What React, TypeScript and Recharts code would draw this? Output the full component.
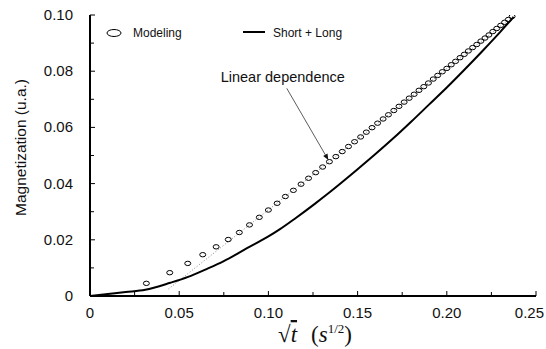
import React from 'react';
import {
  ComposedChart,
  Line,
  Scatter,
  XAxis,
  YAxis,
  Legend,
  ReferenceLine,
} from 'recharts';

// modeling points (sqrt t, magnetization)
const modelingX = [
  0.0316, 0.0447, 0.0548, 0.0632, 0.0707, 0.0775, 0.0837, 0.0894, 0.0949, 0.1,
  0.1049, 0.1095, 0.114, 0.1183, 0.1225, 0.1265, 0.1304, 0.1342, 0.1378, 0.1414,
  0.1449, 0.1483, 0.1517, 0.1549, 0.1581, 0.1612, 0.1643, 0.1673, 0.1703, 0.1732,
  0.1761, 0.1789, 0.1817, 0.1844, 0.1871, 0.1897, 0.1924, 0.1949, 0.1975, 0.2,
  0.2025, 0.2049, 0.2074, 0.2098, 0.2121, 0.2145, 0.2168, 0.2191, 0.2214, 0.2236,
  0.2258, 0.228, 0.2302, 0.2324, 0.2345, 0.2366,
];
const modelingY = [
  0.0045, 0.0083, 0.0116, 0.0147, 0.0175, 0.0201, 0.0226, 0.0253, 0.028, 0.0306,
  0.033, 0.0354, 0.0376, 0.0398, 0.0419, 0.0439, 0.0459, 0.0478, 0.0496, 0.0514,
  0.0532, 0.0549, 0.0566, 0.0583, 0.0599, 0.0615, 0.063, 0.0645, 0.066, 0.0675,
  0.069, 0.0704, 0.0718, 0.0732, 0.0745, 0.0758, 0.0772, 0.0785, 0.0798, 0.081,
  0.0823, 0.0835, 0.0848, 0.086, 0.0872, 0.0884, 0.0895, 0.0907, 0.0918, 0.0929,
  0.0941, 0.0952, 0.0963, 0.0974, 0.0984, 0.0995,
];

// short + long model curve
const shortLongX = [
  0, 0.01, 0.02, 0.031, 0.045, 0.055, 0.065, 0.075, 0.088, 0.1, 0.1065, 0.115,
  0.126, 0.1345, 0.15, 0.16, 0.17, 0.18, 0.19, 0.2, 0.21, 0.22, 0.23, 0.2375,
];
const shortLongY = [
  0, 0.0007, 0.0014, 0.0022, 0.0047, 0.0068, 0.0095, 0.0124, 0.017, 0.0212,
  0.0238, 0.0276, 0.0328, 0.037, 0.0451, 0.0505, 0.0561, 0.062, 0.0681, 0.0742,
  0.0806, 0.0872, 0.094, 0.0993,
];

// dotted linear dependence
const linearX = [0.044, 0.237];
const linearY = [0.0025, 0.0995];

const xTicks = [0, 0.025, 0.05, 0.075, 0.1, 0.125, 0.15, 0.175, 0.2, 0.225, 0.25];
const xTickLabels = ['0', '0.05', '0.10', '0.15', '0.20', '0.25'];
const yTicks = [0, 0.01, 0.02, 0.03, 0.04, 0.05, 0.06, 0.07, 0.08, 0.09, 0.1];
const yTickLabels = ['0', '0.02', '0.04', '0.06', '0.08', '0.10'];

const modelingData = modelingX.map((x, i) => ({ x, y: modelingY[i] }));
const shortLongData = shortLongX.map((x, i) => ({ x, y: shortLongY[i] }));
const linearData = linearX.map((x, i) => ({ x, y: linearY[i] }));

const sans = '"Liberation Sans", Arial, sans-serif';

const XTick = (props: any) => {
  const { x, y, index } = props;
  const major = index % 2 === 0;
  const last = index === xTicks.length - 1;
  return (
    <g>
      <line x1={x} y1={y} x2={x} y2={y - (major ? 5 : 4)} stroke="#000" />
      {major && (
        <text
          x={last ? x + 8 : x}
          y={y + 22}
          textAnchor={last ? 'end' : 'middle'}
          fontFamily={sans}
          fontSize={15}
          fill="#111"
        >
          {xTickLabels[index / 2]}
        </text>
      )}
    </g>
  );
};

const YTick = (props: any) => {
  const { x, y, index } = props;
  const major = index % 2 === 0;
  return (
    <g>
      <line x1={x} y1={y} x2={x + (major ? 5 : 4)} y2={y} stroke="#000" />
      {major && (
        <text x={x - 17} y={y + 5} textAnchor="end" fontFamily={sans} fontSize={15} fill="#111">
          {yTickLabels[index / 2]}
        </text>
      )}
    </g>
  );
};

const Ellipse = (props: any) => {
  const { cx, cy } = props;
  return <ellipse cx={cx} cy={cy} rx={3} ry={2.2} fill="none" stroke="#000" strokeWidth={1} />;
};

const LegendBox = () => (
  <div style={{ position: 'relative', height: 16, fontFamily: sans, fontSize: 12, color: '#111' }}>
    <svg width={20} height={16} style={{ position: 'absolute', left: 4, top: 0 }}>
      <ellipse cx={10} cy={8} rx={7} ry={3.5} fill="none" stroke="#000" />
    </svg>
    <span style={{ position: 'absolute', left: 33, top: 0, lineHeight: '16px' }}>Modeling</span>
    <svg width={24} height={16} style={{ position: 'absolute', left: 143, top: 0 }}>
      <line x1={0} y1={7} x2={22} y2={7} stroke="#000" strokeWidth={2} />
    </svg>
    <span style={{ position: 'absolute', left: 173, top: 0, lineHeight: '16px' }}>Short + Long</span>
  </div>
);

const Arrow = (props: any) => {
  const { x1, y1, x2, y2 } = props;
  const a = Math.atan2(y2 - y1, x2 - x1);
  const L = 6;
  const W = 2.5;
  const bx = x2 - L * Math.cos(a);
  const by = y2 - L * Math.sin(a);
  const px = -Math.sin(a) * W;
  const py = Math.cos(a) * W;
  return (
    <g>
      <text x={x1 - 4} y={y1 - 6} textAnchor="middle" fontFamily={sans} fontSize={14.5} fill="#111">
        Linear dependence
      </text>
      <line x1={x1} y1={y1} x2={bx} y2={by} stroke="#333" strokeWidth={0.8} />
      <polygon points={`${x2},${y2} ${bx + px},${by + py} ${bx - px},${by - py}`} fill="#111" />
    </g>
  );
};

export default function App() {
  return (
    <div style={{ position: 'absolute', left: 0, top: 0, background: '#fff' }}>
      <ComposedChart width={546} height={349} margin={{ top: 15, right: 10, left: 0, bottom: 0 }}>
        <XAxis
          type="number"
          dataKey="x"
          domain={[0, 0.25]}
          ticks={xTicks}
          interval={0}
          tick={<XTick />}
          tickLine={false}
          tickSize={0}
          tickMargin={0}
          axisLine={{ stroke: '#000', strokeWidth: 2 }}
          height={53}
          allowDataOverflow
          label={{
            content: (p: any) => {
              const vb = p.viewBox;
              const cx = vb.x + vb.width / 2 + 2;
              return (
                <text x={cx} y={vb.y + 46} textAnchor="middle" fontFamily='"Liberation Serif", serif' fontSize={23} fill="#111">
                  √<tspan fontStyle="italic" textDecoration="overline">t</tspan>
                  <tspan dx={14}>(</tspan>
                  <tspan fontStyle="italic">s</tspan>
                  <tspan fontSize={13} dy={-9}>1/2</tspan>
                  <tspan dy={9}>)</tspan>
                </text>
              );
            },
          }}
        />
        <YAxis
          type="number"
          dataKey="y"
          domain={[0, 0.1]}
          ticks={yTicks}
          interval={0}
          tick={<YTick />}
          tickLine={false}
          tickSize={0}
          tickMargin={0}
          axisLine={{ stroke: '#000', strokeWidth: 2 }}
          width={90}
          allowDataOverflow
          label={{
            content: (p: any) => {
              const vb = p.viewBox;
              const cy = vb.y + vb.height / 2 - 8;
              return (
                <text x={22} y={cy} transform={`rotate(-90 22 ${cy})`} textAnchor="middle" dominantBaseline="middle" fontFamily={sans} fontSize={15.5} fill="#111">
                  Magnetization (u.a.)
                </text>
              );
            },
          }}
        />
        <Legend
          layout="horizontal"
          verticalAlign="middle"
          align="center"
          content={() => <LegendBox />}
          wrapperStyle={{ top: 25, left: 100, width: 300, height: 16 }}
        />
        <Line
          data={linearData}
          dataKey="y"
          type="linear"
          stroke="#888"
          strokeWidth={1}
          strokeDasharray="1 2"
          dot={false}
          isAnimationActive={false}
        />
        <Line
          data={shortLongData}
          dataKey="y"
          type="monotone"
          stroke="#000"
          strokeWidth={2}
          dot={false}
          isAnimationActive={false}
        />
        <Scatter data={modelingData} dataKey="y" shape={<Ellipse />} isAnimationActive={false} />
        <ReferenceLine
          segment={[
            { x: 0.1103, y: 0.0739 },
            { x: 0.1336, y: 0.0484 },
          ]}
          shape={<Arrow />}
        />
      </ComposedChart>
    </div>
  );
}
